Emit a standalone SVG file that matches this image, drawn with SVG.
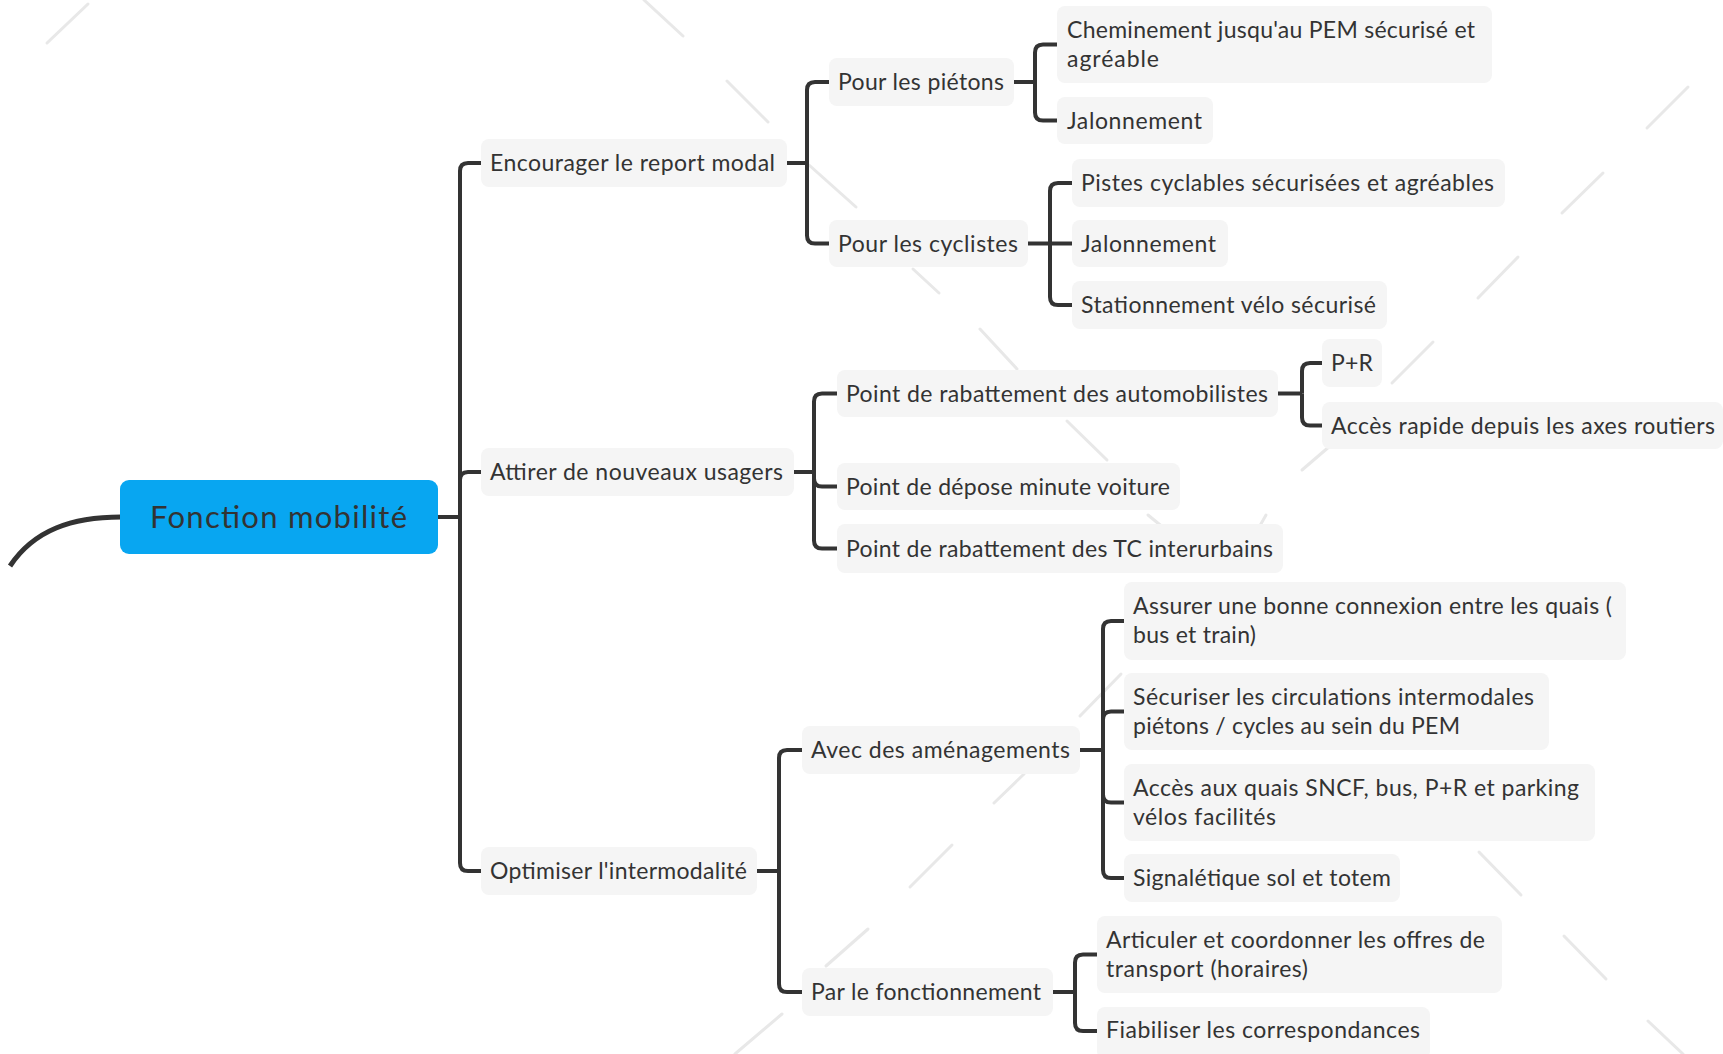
<svg xmlns="http://www.w3.org/2000/svg" width="1723" height="1054" viewBox="0 0 1723 1054">
<style>
.bg{fill:#ffffff}
.wm{stroke:#e8e8e8;stroke-width:3;stroke-linecap:round;fill:none}
.box{fill:#f5f5f5}
.t{font-family:Lato,"Open Sans","Noto Sans",sans-serif;font-size:23px;fill:#333333}
.rt{font-family:Lato,"Open Sans","Noto Sans",sans-serif;font-size:31px;fill:#333333}
.c{fill:none;stroke:#333333;stroke-width:4;stroke-linejoin:round}
</style>
<rect class="bg" x="0" y="0" width="1723" height="1054"/>
<g id="watermark">
<line class="wm" x1="47" y1="43" x2="88" y2="4"/>
<line class="wm" x1="644" y1="0" x2="683" y2="36"/>
<line class="wm" x1="727" y1="81" x2="768" y2="122"/>
<line class="wm" x1="809" y1="165" x2="856" y2="207"/>
<line class="wm" x1="913" y1="269" x2="939" y2="293"/>
<line class="wm" x1="980" y1="329" x2="1017" y2="369"/>
<line class="wm" x1="1067" y1="421" x2="1107" y2="460"/>
<line class="wm" x1="1148" y1="515" x2="1176" y2="538"/>
<line class="wm" x1="1253" y1="538" x2="1266" y2="515"/>
<line class="wm" x1="1302" y1="470" x2="1330" y2="446"/>
<line class="wm" x1="1392" y1="383" x2="1433" y2="342"/>
<line class="wm" x1="1478" y1="298" x2="1518" y2="257"/>
<line class="wm" x1="1562" y1="213" x2="1603" y2="173"/>
<line class="wm" x1="1647" y1="128" x2="1688" y2="87"/>
<line class="wm" x1="1080" y1="716" x2="1121" y2="674"/>
<line class="wm" x1="994" y1="803" x2="1024" y2="774"/>
<line class="wm" x1="910" y1="887" x2="952" y2="845"/>
<line class="wm" x1="826" y1="966" x2="868" y2="929"/>
<line class="wm" x1="735" y1="1054" x2="782" y2="1014"/>
<line class="wm" x1="1479" y1="852" x2="1521" y2="895"/>
<line class="wm" x1="1564" y1="936" x2="1606" y2="979"/>
<line class="wm" x1="1648" y1="1021" x2="1683" y2="1054"/>
</g>
<g id="connectors">
<path class="c" style="stroke-width:5" d="M121,517 C72,517 34,530 10,566"/>
<path class="c" d="M438,517 H460"/>
<path class="c" d="M460,517 V171 Q460,163 468,163 H481"/>
<path class="c" d="M460,517 V480 Q460,472 468,472 H481"/>
<path class="c" d="M460,517 V863 Q460,871 468,871 H481"/>
<path class="c" d="M786,163 H807"/>
<path class="c" d="M807,163 V90 Q807,82 815,82 H829"/>
<path class="c" d="M807,163 V235.5 Q807,243.5 815,243.5 H829"/>
<path class="c" d="M1013,82 H1035"/>
<path class="c" d="M1035,82 V52.5 Q1035,44.5 1043,44.5 H1057"/>
<path class="c" d="M1035,82 V112.5 Q1035,120.5 1043,120.5 H1057"/>
<path class="c" d="M1028,243.5 H1050"/>
<path class="c" d="M1050,243.5 V191 Q1050,183 1058,183 H1072"/>
<path class="c" d="M1050,243.5 H1072"/>
<path class="c" d="M1050,243.5 V297 Q1050,305 1058,305 H1072"/>
<path class="c" d="M793,472 H814"/>
<path class="c" d="M814,472 V401.5 Q814,393.5 822,393.5 H837"/>
<path class="c" d="M814,472 V478.5 Q814,486.5 822,486.5 H837"/>
<path class="c" d="M814,472 V540.5 Q814,548.5 822,548.5 H837"/>
<path class="c" d="M1278,393.5 H1302"/>
<path class="c" d="M1302,393.5 V371 Q1302,363 1310,363 H1322"/>
<path class="c" d="M1302,393.5 V417.5 Q1302,425.5 1310,425.5 H1322"/>
<path class="c" d="M757,871 H779"/>
<path class="c" d="M779,871 V758 Q779,750 787,750 H802"/>
<path class="c" d="M779,871 V984 Q779,992 787,992 H802"/>
<path class="c" d="M1080,750 H1103"/>
<path class="c" d="M1103,750 V629 Q1103,621 1111,621 H1124"/>
<path class="c" d="M1103,750 V719.5 Q1103,711.5 1111,711.5 H1124"/>
<path class="c" d="M1103,750 V794.5 Q1103,802.5 1111,802.5 H1124"/>
<path class="c" d="M1103,750 V870 Q1103,878 1111,878 H1124"/>
<path class="c" d="M1053,992 H1075"/>
<path class="c" d="M1075,992 V962.5 Q1075,954.5 1083,954.5 H1097"/>
<path class="c" d="M1075,992 V1023 Q1075,1031 1083,1031 H1097"/>
</g>
<g id="root">
<rect x="120" y="480" width="318" height="74" rx="9" fill="#08a6f1"/>
<text class="rt" x="150" y="528" textLength="257">Fonction mobilité</text>
</g>
<g id="n-encourager">
<rect class="box" x="481" y="139" width="306" height="48" rx="8"/>
<text class="t" x="490" y="171" textLength="285">Encourager le report modal</text>
</g>
<g id="n-attirer">
<rect class="box" x="481" y="448" width="313" height="48" rx="8"/>
<text class="t" x="490" y="480" textLength="293">Attirer de nouveaux usagers</text>
</g>
<g id="n-optimiser">
<rect class="box" x="481" y="847" width="276" height="48" rx="8"/>
<text class="t" x="490" y="879" textLength="257">Optimiser l'intermodalité</text>
</g>
<g id="n-pietons">
<rect class="box" x="829" y="58" width="185" height="48" rx="8"/>
<text class="t" x="838" y="90" textLength="166">Pour les piétons</text>
</g>
<g id="n-cyclistes">
<rect class="box" x="829" y="220" width="199" height="47" rx="8"/>
<text class="t" x="838" y="251.5" textLength="180">Pour les cyclistes</text>
</g>
<g id="n-cheminement">
<rect class="box" x="1057" y="6" width="435" height="77" rx="8"/>
<text class="t" x="1067" y="38" textLength="408">Cheminement jusqu'au PEM sécurisé et</text>
<text class="t" x="1067" y="67" textLength="92">agréable</text>
</g>
<g id="n-jalonnement-pietons">
<rect class="box" x="1057" y="97" width="156" height="47" rx="8"/>
<text class="t" x="1067" y="128.5" textLength="135">Jalonnement</text>
</g>
<g id="n-pistes">
<rect class="box" x="1072" y="159" width="433" height="48" rx="8"/>
<text class="t" x="1081" y="191" textLength="413">Pistes cyclables sécurisées et agréables</text>
</g>
<g id="n-jalonnement-cyclistes">
<rect class="box" x="1072" y="220" width="156" height="47" rx="8"/>
<text class="t" x="1081" y="251.5" textLength="135">Jalonnement</text>
</g>
<g id="n-stationnement">
<rect class="box" x="1072" y="281" width="315" height="48" rx="8"/>
<text class="t" x="1081" y="313" textLength="295">Stationnement vélo sécurisé</text>
</g>
<g id="n-point-auto">
<rect class="box" x="837" y="370" width="441" height="47" rx="8"/>
<text class="t" x="846" y="401.5" textLength="422">Point de rabattement des automobilistes</text>
</g>
<g id="n-pr">
<rect class="box" x="1322" y="339" width="60" height="48" rx="8"/>
<text class="t" x="1331" y="371" textLength="42">P+R</text>
</g>
<g id="n-acces-rapide">
<rect class="box" x="1322" y="402" width="401" height="47" rx="8"/>
<text class="t" x="1331" y="433.5" textLength="384">Accès rapide depuis les axes routiers</text>
</g>
<g id="n-depose">
<rect class="box" x="837" y="463" width="343" height="47" rx="8"/>
<text class="t" x="846" y="494.5" textLength="324">Point de dépose minute voiture</text>
</g>
<g id="n-tc">
<rect class="box" x="837" y="524" width="446" height="49" rx="8"/>
<text class="t" x="846" y="556.5" textLength="427">Point de rabattement des TC interurbains</text>
</g>
<g id="n-avec">
<rect class="box" x="802" y="726" width="278" height="48" rx="8"/>
<text class="t" x="811" y="758" textLength="259">Avec des aménagements</text>
</g>
<g id="n-par">
<rect class="box" x="802" y="968" width="251" height="48" rx="8"/>
<text class="t" x="811" y="1000" textLength="230">Par le fonctionnement</text>
</g>
<g id="n-assurer">
<rect class="box" x="1124" y="582" width="502" height="78" rx="8"/>
<text class="t" x="1133" y="614" textLength="479">Assurer une bonne connexion entre les quais (</text>
<text class="t" x="1133" y="643" textLength="123">bus et train)</text>
</g>
<g id="n-securiser">
<rect class="box" x="1124" y="673" width="425" height="77" rx="8"/>
<text class="t" x="1133" y="705" textLength="401">Sécuriser les circulations intermodales</text>
<text class="t" x="1133" y="734" textLength="327">piétons / cycles au sein du PEM</text>
</g>
<g id="n-acces-quais">
<rect class="box" x="1124" y="764" width="471" height="77" rx="8"/>
<text class="t" x="1133" y="796" textLength="446">Accès aux quais SNCF, bus, P+R et parking</text>
<text class="t" x="1133" y="825" textLength="143">vélos facilités</text>
</g>
<g id="n-signaletique">
<rect class="box" x="1124" y="854" width="276" height="48" rx="8"/>
<text class="t" x="1133" y="886" textLength="258">Signalétique sol et totem</text>
</g>
<g id="n-articuler">
<rect class="box" x="1097" y="916" width="405" height="77" rx="8"/>
<text class="t" x="1106" y="948" textLength="379">Articuler et coordonner les offres de</text>
<text class="t" x="1106" y="977" textLength="202">transport (horaires)</text>
</g>
<g id="n-fiabiliser">
<rect class="box" x="1097" y="1007" width="333" height="52" rx="8"/>
<text class="t" x="1106" y="1038" textLength="314">Fiabiliser les correspondances</text>
</g>
</svg>
